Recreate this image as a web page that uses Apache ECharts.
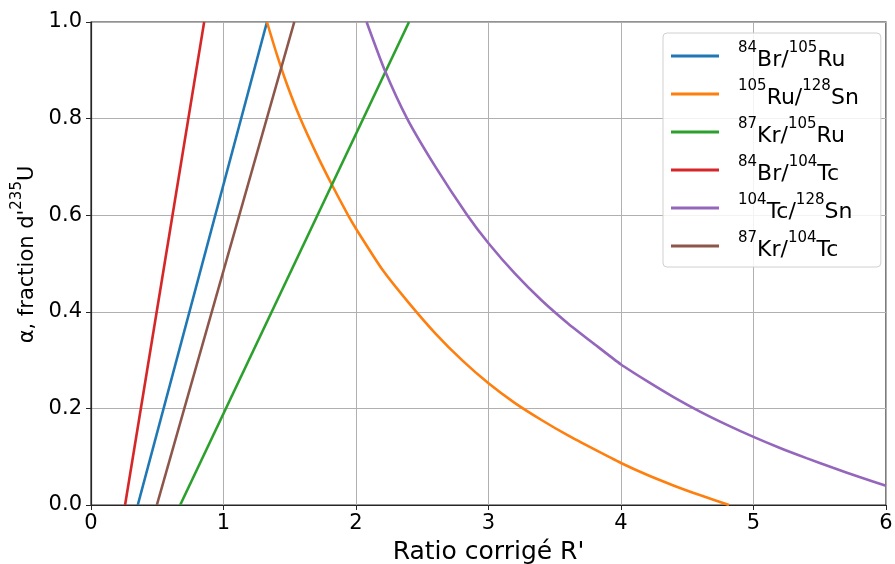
<!DOCTYPE html>
<html><head><meta charset="utf-8">
<script src="https://cdn.jsdelivr.net/npm/echarts@6/dist/echarts.min.js"></script>
<style>html,body{margin:0;padding:0;background:#fff}#c{width:895px;height:564px}</style>
</head><body><div id="c"></div>
<script>
var seriesNames = ['84Br/105Ru','105Ru/128Sn','87Kr/105Ru','84Br/104Tc','104Tc/128Sn','87Kr/104Tc'];
var seriesColors = ['#1f77b4','#ff7f0e','#2ca02c','#d62728','#9467bd','#8c564b'];
// superscript parts for labels: [massA, elemA, massB, elemB]
var labelParts = [['84','Br','105','Ru'],['105','Ru','128','Sn'],['87','Kr','105','Ru'],['84','Br','104','Tc'],['104','Tc','128','Sn'],['87','Kr','104','Tc']];

var brRuX = [0.353, 1.328];
var brRuY = [0.0, 1.0];
var ruSnX = [1.328,1.40,1.48,1.58,1.70,1.82,1.94,2.0,2.2,2.4,2.6,2.8,3.0,3.2,3.4,3.6,3.8,4.0,4.2,4.4,4.6,4.815];
var ruSnY = [1.0,0.935,0.87,0.80,0.728,0.662,0.60,0.572,0.487,0.418,0.355,0.30,0.252,0.211,0.176,0.144,0.115,0.087,0.062,0.04,0.02,0.0];
var krRuX = [0.673, 2.40];
var krRuY = [0.0, 1.0];
var brTcX = [0.257, 0.854];
var brTcY = [0.0, 1.0];
var tcSnX = [2.08,2.217,2.386,2.6,2.84,3.0,3.2,3.4,3.6,3.8,4.0,4.2,4.4,4.6,4.8,5.0,5.2,5.4,5.6,5.8,6.0];
var tcSnY = [1.0,0.9,0.8,0.70,0.60,0.542,0.479,0.424,0.376,0.333,0.291,0.256,0.223,0.193,0.166,0.141,0.118,0.097,0.077,0.058,0.04];
var krTcX = [0.497, 1.534];
var krTcY = [0.0, 1.0];

var xTicks = [0,1,2,3,4,5,6];
var yTicks = [0.0,0.2,0.4,0.6,0.8,1.0];

var allX = [brRuX, ruSnX, krRuX, brTcX, tcSnX, krTcX];
var allY = [brRuY, ruSnY, krRuY, brTcY, tcSnY, krTcY];

function pairs(xs, ys){ return xs.map(function(x,i){ return [x, ys[i]]; }); }

var FONT = 'DejaVu Sans';
var chart = echarts.init(document.getElementById('c'), null, {renderer:'canvas'});
var series = seriesNames.map(function(n,i){
  return {name:n, type:'line', data:pairs(allX[i], allY[i]), showSymbol:false, symbol:'none',
    smooth:0.2,
    lineStyle:{color:seriesColors[i], width:2.6}, itemStyle:{color:seriesColors[i]}, clip:true, animation:false, z:2};
});
var legendRich = {
  s:{fontSize:15, fontFamily:FONT, color:'#000', lineHeight:15, verticalAlign:'top'},
  n:{fontSize:22, fontFamily:FONT, color:'#000', lineHeight:30, verticalAlign:'bottom'}
};
chart.setOption({
  animation:false,
  backgroundColor:'#fff',
  grid:{left:91, right:9, top:22, bottom:59, show:true, borderColor:'#262626', borderWidth:1.2,
        backgroundColor:'transparent', containLabel:false, outerBoundsMode:'none'},
  xAxis:{type:'value', min:0, max:6, interval:1,
    name:"Ratio corrigé R'", nameLocation:'middle', nameGap:35,
    nameTextStyle:{fontFamily:FONT, fontSize:25, color:'#000'},
    axisLine:{show:true, onZero:false, lineStyle:{color:'#262626', width:1.2}},
    axisTick:{show:true, length:5, lineStyle:{color:'#262626'}},
    axisLabel:{fontFamily:FONT, fontSize:21, color:'#000', margin:8, formatter:function(v){return String(v);}},
    splitLine:{show:true, lineStyle:{color:'#b0b0b0', width:1}}
  },
  yAxis:{type:'value', min:0, max:1, interval:0.2,
    name:"{n|α, fraction d'}{s|235}{n|U}", nameLocation:'middle', nameGap:53, nameRotate:90,
    nameTextStyle:{fontFamily:FONT, fontSize:21, color:'#000', padding:[0,0,0,18],
      rich:{n:{fontFamily:FONT,fontSize:21,color:'#000',lineHeight:28,verticalAlign:'bottom'},
            s:{fontFamily:FONT,fontSize:15,color:'#000',lineHeight:15,verticalAlign:'top'}}},
    axisLine:{show:true, onZero:false, lineStyle:{color:'#262626', width:1.2}},
    axisTick:{show:true, length:5, lineStyle:{color:'#262626'}},
    axisLabel:{fontFamily:FONT, fontSize:21, color:'#000', margin:9, formatter:function(v){return v.toFixed(1);}},
    splitLine:{show:true, lineStyle:{color:'#b0b0b0', width:1}}
  },
  legend:{
    left:663, top:33, orient:'vertical', icon:'rect', itemWidth:48, itemHeight:3, itemGap:8,
    backgroundColor:'rgba(255,255,255,0.85)', borderColor:'#d0d0d0', borderWidth:1, borderRadius:4,
    padding:[8,22,6,8],
    data:seriesNames.map(function(n,i){return {name:n, itemStyle:{color:seriesColors[i]}};}),
    formatter:function(name){
      var p = labelParts[seriesNames.indexOf(name)];
      return '{s|'+p[0]+'}{n|'+p[1]+'/}{s|'+p[2]+'}{n|'+p[3]+'}';
    },
    textStyle:{fontFamily:FONT, fontSize:22, color:'#000', padding:[0,0,0,14], rich:legendRich}
  },
  series:series
});
</script></body></html>
